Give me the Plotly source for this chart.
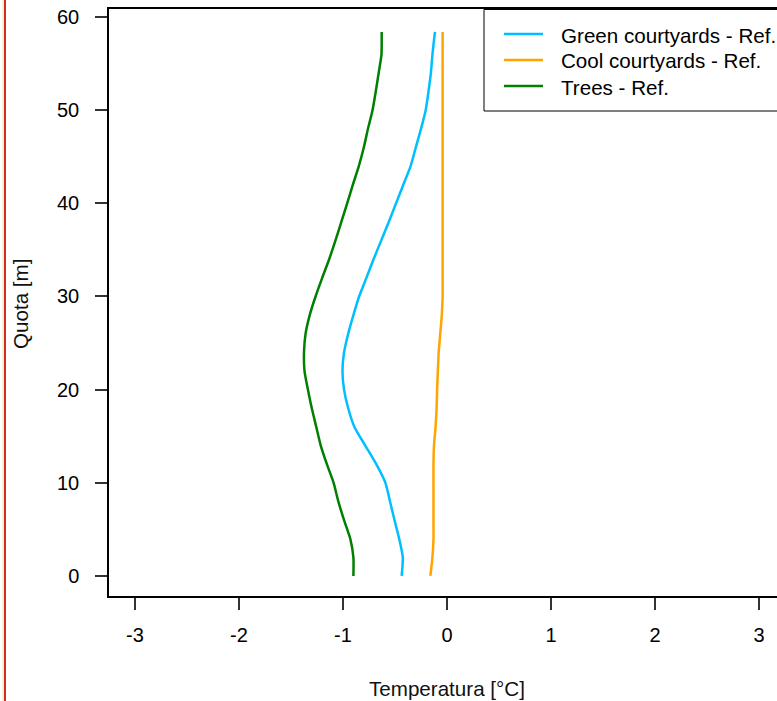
import plotly.graph_objects as go

# Heights [m]
quota = [0, 2, 4, 6, 8, 10, 12, 14, 16, 18, 20, 22, 24, 26, 28, 30,
         32, 34, 36, 38, 40, 42, 44, 46, 48, 50, 52, 54, 56, 58, 58.4]

# Temperature differences [°C]
green_courtyards = [-0.436, -0.425, -0.46, -0.505, -0.548, -0.592, -0.68, -0.786,
                    -0.89, -0.95, -0.99, -1.005, -0.99, -0.95, -0.90, -0.845,
                    -0.775, -0.706, -0.633, -0.56, -0.49, -0.42, -0.35, -0.30,
                    -0.25, -0.205, -0.178, -0.155, -0.14, -0.12, -0.115]
cool_courtyards = [-0.16, -0.14, -0.13, -0.13, -0.13, -0.13, -0.13, -0.125,
                   -0.11, -0.10, -0.095, -0.088, -0.08, -0.065, -0.05, -0.042,
                   -0.042, -0.042, -0.042, -0.042, -0.042, -0.042, -0.042, -0.042,
                   -0.042, -0.042, -0.042, -0.042, -0.042, -0.042, -0.042]
trees = [-0.90, -0.90, -0.93, -0.99, -1.045, -1.09, -1.155, -1.214,
         -1.257, -1.30, -1.337, -1.37, -1.375, -1.36, -1.32, -1.264,
         -1.20, -1.133, -1.073, -1.016, -0.96, -0.905, -0.848, -0.80,
         -0.76, -0.716, -0.685, -0.657, -0.63, -0.628, -0.628]

series_names = ["Green courtyards - Ref.", "Cool courtyards - Ref.", "Trees - Ref."]
series_values = [green_courtyards, cool_courtyards, trees]
series_colors = ["#00BFFF", "#FFA500", "#008000"]

x_ticks = [-3, -2, -1, 0, 1, 2, 3]
y_ticks = [0, 10, 20, 30, 40, 50, 60]

FONT = "Liberation Sans, Arial, sans-serif"
FS = 20
FS_TXT = 20.6

fig = go.Figure()
for name, vals, col in zip(series_names, series_values, series_colors):
    fig.add_trace(go.Scatter(x=vals, y=quota, mode="lines", name=name,
                             line=dict(color=col, width=2.5, shape="spline", smoothing=0.6),
                             showlegend=False, hoverinfo="skip"))

W, H = 777, 701
L, R, T, B = 109, 0, 9, 105
pw, ph = W - L - R, H - T - B

def px2paper_x(px):
    return (px - L) / pw

def py2paper_y(py):
    return (H - B - py) / ph

shapes = []
annotations = []

# legend box
shapes.append(dict(type="rect", xref="paper", yref="paper",
                   x0=px2paper_x(484), x1=px2paper_x(800),
                   y0=py2paper_y(111), y1=py2paper_y(9.5),
                   line=dict(color="black", width=1), fillcolor="white", layer="above"))
rows_y = [34, 60, 86]
for name, col, ry in zip(series_names, series_colors, rows_y):
    shapes.append(dict(type="line", xref="paper", yref="paper",
                       x0=px2paper_x(504), x1=px2paper_x(543),
                       y0=py2paper_y(ry), y1=py2paper_y(ry),
                       line=dict(color=col, width=2.5), layer="above"))
    annotations.append(dict(text=name, xref="paper", yref="paper",
                            x=px2paper_x(559), y=py2paper_y(ry + 1),
                            xanchor="left", yanchor="middle", showarrow=False,
                            font=dict(family=FONT, size=FS_TXT, color="black")))

# red page border line on the left
shapes.append(dict(type="line", xref="paper", yref="paper",
                   x0=px2paper_x(3), x1=px2paper_x(3),
                   y0=py2paper_y(0), y1=py2paper_y(H),
                   line=dict(color="#f3e3b0", width=1)))
shapes.append(dict(type="line", xref="paper", yref="paper",
                   x0=px2paper_x(5), x1=px2paper_x(5),
                   y0=py2paper_y(0), y1=py2paper_y(H),
                   line=dict(color="#d42a24", width=2)))

# axis titles
annotations.append(dict(text="Temperatura [°C]", xref="x", yref="paper",
                        x=0, y=py2paper_y(688), xanchor="center", yanchor="middle",
                        showarrow=False, font=dict(family=FONT, size=FS_TXT, color="#111")))
annotations.append(dict(text="Quota [m]", xref="paper", yref="paper",
                        x=px2paper_x(20), y=py2paper_y(304), xanchor="center", yanchor="middle",
                        textangle=-90, showarrow=False,
                        font=dict(family=FONT, size=FS_TXT, color="#111")))

fig.update_layout(
    width=W, height=H,
    margin=dict(l=L, r=R, t=T, b=B, pad=0),
    paper_bgcolor="white", plot_bgcolor="white",
    font=dict(family=FONT, size=FS, color="black"),
    shapes=shapes, annotations=annotations,
    showlegend=False, hovermode=False,
)
fig.update_xaxes(range=[-3.25, 3.173], tickvals=x_ticks, ticktext=[str(v) for v in x_ticks],
                 showgrid=False, zeroline=False, showline=True, mirror=True,
                 linecolor="black", linewidth=1.5, ticks="outside", ticklen=12,
                 tickwidth=1.5, tickcolor="#333", ticklabelstandoff=8,
                 tickfont=dict(family=FONT, size=FS, color="black"))
fig.update_yaxes(range=[-2.15, 60.86], tickvals=y_ticks, ticktext=[str(v) for v in y_ticks],
                 showgrid=False, zeroline=False, showline=True, mirror=False,
                 linecolor="black", linewidth=1.5, ticks="outside", ticklen=12,
                 tickwidth=1.5, tickcolor="#333", ticklabelstandoff=12,
                 tickfont=dict(family=FONT, size=FS, color="black"))

fig.write_html("out.html", config={"displayModeBar": False},
               post_script="document.body.style.margin='0';document.body.style.overflow='hidden';")
